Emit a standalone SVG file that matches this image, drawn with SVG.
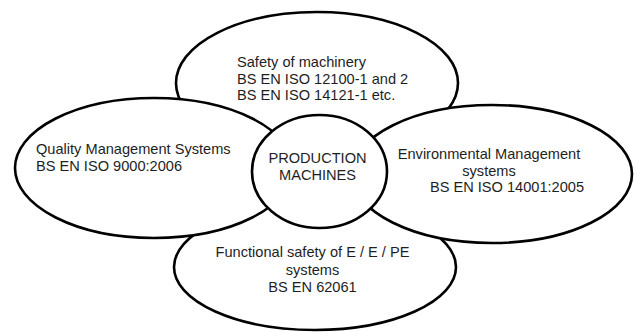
<svg xmlns="http://www.w3.org/2000/svg" width="634" height="332" viewBox="0 0 634 332">
<style>
.shape{fill:#fff;stroke:#000;stroke-width:2.6}
.t{font-family:"Liberation Sans",Arial,sans-serif;font-size:14.6px;fill:#1e1e1e}
.c{text-anchor:middle}
</style>
<rect width="634" height="332" fill="#fff"/>
<g id="connectors"/>
<g id="safety">
<ellipse class="shape" cx="317" cy="83" rx="141" ry="71"/>
<text class="t" x="237" y="67">Safety of machinery</text>
<text class="t" x="237" y="83.5">BS EN ISO 12100-1 and 2</text>
<text class="t" x="237" y="100">BS EN ISO 14121-1 etc.</text>
</g>
<g id="functional">
<ellipse class="shape" cx="315" cy="267" rx="141" ry="63"/>
<text class="t c" x="312.5" y="257">Functional safety of E / E / PE</text>
<text class="t c" x="312.5" y="275">systems</text>
<text class="t c" x="312.5" y="292">BS EN 62061</text>
</g>
<g id="quality">
<ellipse class="shape" cx="154" cy="168" rx="139" ry="70"/>
<text class="t" x="36" y="154">Quality Management Systems</text>
<text class="t" x="36" y="171">BS EN ISO 9000:2006</text>
</g>
<g id="environmental">
<ellipse class="shape" cx="492" cy="174" rx="140" ry="69"/>
<text class="t c" x="489" y="159">Environmental Management</text>
<text class="t c" x="489" y="175.5">systems</text>
<text class="t c" x="507" y="192">BS EN ISO 14001:2005</text>
</g>
<g id="production">
<ellipse class="shape" cx="319.5" cy="171.5" rx="67.5" ry="56.5"/>
<text class="t c" x="317.5" y="163">PRODUCTION</text>
<text class="t c" x="317.5" y="179.5">MACHINES</text>
</g>
</svg>
